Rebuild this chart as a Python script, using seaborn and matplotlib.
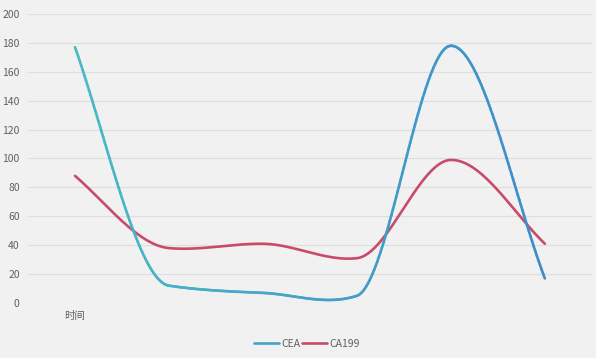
import numpy as np
import pandas as pd
import seaborn as sns
import matplotlib
matplotlib.use("Agg")
import matplotlib.pyplot as plt
from matplotlib.collections import LineCollection
from matplotlib.lines import Line2D

categories = ["时间", "", "", "", "", ""]
cea = [177, 12, 7, 5, 178, 17]
ca199 = [88, 38, 41, 31, 99, 41]
yticks = [0, 20, 40, 60, 80, 100, 120, 140, 160, 180, 200]

sns.set_theme(style="white")
plt.rcParams["font.family"] = ["Noto Sans CJK SC", "DejaVu Sans"]

def smooth(vals, n=60):
    v = np.asarray(vals, float)
    d = np.diff(v)
    m = np.zeros_like(v)
    for i in range(1, len(v) - 1):
        if d[i - 1] * d[i] > 0:
            m[i] = 2.0 / (1.0 / d[i - 1] + 1.0 / d[i])
        else:
            m[i] = 0.25 * 0.5 * (d[i - 1] + d[i])
    m[0] = 1.12 * d[0]
    m[-1] = 1.08 * d[-1]
    xs, ys = [], []
    for i in range(len(v) - 1):
        t = np.linspace(0, 1, n, endpoint=(i == len(v) - 2))
        h00 = 2 * t ** 3 - 3 * t ** 2 + 1
        h10 = t ** 3 - 2 * t ** 2 + t
        h01 = -2 * t ** 3 + 3 * t ** 2
        h11 = t ** 3 - t ** 2
        y = h00 * v[i] + h10 * m[i] + h01 * v[i + 1] + h11 * m[i + 1]
        xs.append(i + t)
        ys.append(y)
    return np.concatenate(xs), np.concatenate(ys)

xa, ya = smooth(cea)
xb, yb = smooth(ca199)
df = pd.concat([
    pd.DataFrame({"x": xa, "y": ya, "s": "CEA"}),
    pd.DataFrame({"x": xb, "y": yb, "s": "CA199"}),
])

fig = plt.figure(figsize=(5.96, 3.58), dpi=100)
fig.patch.set_facecolor("#F1F1F1")
ax = fig.add_axes([0.047, 0.1536, 0.946, 0.8074])
ax.set_facecolor("#F1F1F1")

lw = 1.9
sns.lineplot(data=df, x="x", y="y", hue="s", palette={"CEA": "#4AB3C6", "CA199": "#C84B6A"},
             linewidth=lw, ax=ax, legend=False, sort=False, estimator=None)
# gradient for CEA
ax.lines[0].set_visible(False)
pts = np.column_stack([xa, ya]).reshape(-1, 1, 2)
segs = np.concatenate([pts[:-1], pts[1:]], axis=1)
c0 = np.array([0.29, 0.73, 0.77])
c1 = np.array([0.24, 0.55, 0.79])
fr = (xa[:-1] / xa.max())[:, None]
cols = c0 * (1 - fr) + c1 * fr
lc = LineCollection(segs, colors=cols, linewidths=lw, capstyle="round", zorder=3)
ax.add_collection(lc)

ax.set_xlim(-0.5, 5.5)
ax.set_ylim(0, 200)
ax.set_yticks(yticks)
ax.set_yticklabels([str(v) for v in yticks])
ax.set_xticks(range(len(categories)))
ax.set_xticklabels(categories)
ax.grid(axis="y", color="#DEDEDE", linewidth=0.8)
ax.set_axisbelow(True)
for s in ax.spines.values():
    s.set_visible(False)
ax.tick_params(axis="both", length=0, labelsize=7.5, colors="#606060", pad=6)
ax.tick_params(axis="y", pad=6)
ax.set_xlabel("")
ax.set_ylabel("")

handles = [Line2D([0], [0], color="#45A3C8", lw=lw), Line2D([0], [0], color="#C84B6A", lw=lw)]
fig.legend(handles, ["CEA", "CA199"], loc="center", bbox_to_anchor=(0.515, 0.04), ncol=2,
           frameon=False, fontsize=7.5, handlelength=2.4, handletextpad=0.2, columnspacing=0.2,
           labelcolor="#606060")

fig.savefig("out.png", dpi=100, facecolor=fig.get_facecolor())
